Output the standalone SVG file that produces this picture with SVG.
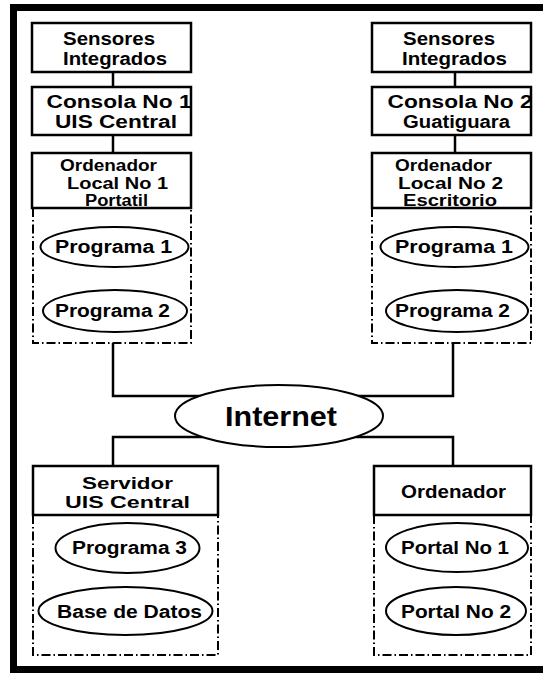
<svg xmlns="http://www.w3.org/2000/svg" width="543" height="673" viewBox="0 0 543 673">
  <style>
    .box { fill: #fff; stroke: #000; stroke-width: 2.5; }
    .ell { fill: #fff; stroke: #000; stroke-width: 2; }
    .dash { fill: none; stroke: #000; stroke-width: 2; stroke-dasharray: 9 3 1.5 3; }
    .wire { fill: none; stroke: #000; stroke-width: 2.5; }
    text { font-family: "Liberation Sans", Arial, sans-serif; font-weight: bold; font-size: 18px; fill: #000; text-anchor: middle; }
    .sm { font-size: 16px; }
    .big { font-size: 27px; }
  </style>
  <rect width="543" height="673" fill="#fff"/>
  <!-- outer frame -->
  <path d="M 560 7.5 H 13.5 V 669.5 H 560" fill="none" stroke="#000" stroke-width="7"/>

  <g id="connectors">
    <path class="wire" d="M113 72 V87 M113 135 V153"/>
    <path class="wire" d="M455 72 V87 M455 135 V153"/>
    <path class="wire" d="M113 343 V396 H279"/>
    <path class="wire" d="M453 343 V396 H279"/>
    <path class="wire" d="M113 466 V437 H279"/>
    <path class="wire" d="M453 466 V437 H279"/>
  </g>

  <!-- left station -->
  <g id="sensores-1">
    <rect class="box" x="32" y="23" width="159" height="49"/>
    <text x="109" y="45" textLength="92" lengthAdjust="spacingAndGlyphs">Sensores</text>
    <text x="115" y="65" textLength="104" lengthAdjust="spacingAndGlyphs">Integrados</text>
  </g>
  <g id="consola-1">
    <rect class="box" x="32" y="87" width="159" height="48"/>
    <text x="119" y="108" textLength="145" lengthAdjust="spacingAndGlyphs">Consola No 1</text>
    <text x="116" y="128" textLength="122" lengthAdjust="spacingAndGlyphs">UIS Central</text>
  </g>
  <g id="ordenador-1">
    <rect class="box" x="32" y="153" width="159" height="55"/>
    <text class="sm" x="108.5" y="171" textLength="97" lengthAdjust="spacingAndGlyphs">Ordenador</text>
    <text class="sm" x="117.5" y="189" textLength="101" lengthAdjust="spacingAndGlyphs">Local No 1</text>
    <text class="sm" x="116.5" y="206" textLength="63" lengthAdjust="spacingAndGlyphs">Portatil</text>
    <path class="dash" d="M33 208 V343 H191 V208"/>
  </g>
  <g id="programa-1a">
    <ellipse class="ell" cx="114.5" cy="247" rx="74" ry="20"/>
    <text x="113.5" y="253" textLength="117" lengthAdjust="spacingAndGlyphs">Programa 1</text>
  </g>
  <g id="programa-2a">
    <ellipse class="ell" cx="115" cy="311" rx="72" ry="21"/>
    <text x="112.5" y="317" textLength="115" lengthAdjust="spacingAndGlyphs">Programa 2</text>
  </g>

  <!-- right station -->
  <g id="sensores-2">
    <rect class="box" x="372" y="23" width="159" height="49"/>
    <text x="449" y="45" textLength="92" lengthAdjust="spacingAndGlyphs">Sensores</text>
    <text x="454.5" y="65" textLength="105" lengthAdjust="spacingAndGlyphs">Integrados</text>
  </g>
  <g id="consola-2">
    <rect class="box" x="372" y="87" width="159" height="48"/>
    <text x="460" y="108" textLength="145" lengthAdjust="spacingAndGlyphs">Consola No 2</text>
    <text x="456.5" y="128" textLength="107" lengthAdjust="spacingAndGlyphs">Guatiguara</text>
  </g>
  <g id="ordenador-2">
    <rect class="box" x="372" y="153" width="159" height="55"/>
    <text class="sm" x="443.5" y="171" textLength="97" lengthAdjust="spacingAndGlyphs">Ordenador</text>
    <text class="sm" x="450.5" y="189" textLength="105" lengthAdjust="spacingAndGlyphs">Local No 2</text>
    <text class="sm" x="450" y="206" textLength="94" lengthAdjust="spacingAndGlyphs">Escritorio</text>
    <path class="dash" d="M372 208 V343 H531 V208"/>
  </g>
  <g id="programa-1b">
    <ellipse class="ell" cx="454.5" cy="247" rx="74" ry="20"/>
    <text x="454" y="253" textLength="118" lengthAdjust="spacingAndGlyphs">Programa 1</text>
  </g>
  <g id="programa-2b">
    <ellipse class="ell" cx="457" cy="311" rx="71" ry="21"/>
    <text x="452.5" y="317" textLength="115" lengthAdjust="spacingAndGlyphs">Programa 2</text>
  </g>

  <!-- network -->
  <g id="internet">
    <ellipse class="ell" cx="279" cy="416" rx="104" ry="31"/>
    <text class="big" x="281" y="426" textLength="112" lengthAdjust="spacingAndGlyphs">Internet</text>
  </g>

  <!-- server -->
  <g id="servidor">
    <rect class="box" x="33" y="466" width="185" height="49"/>
    <text class="sm" x="127.5" y="489" textLength="91" lengthAdjust="spacingAndGlyphs">Servidor</text>
    <text class="sm" x="127.5" y="508" textLength="125" lengthAdjust="spacingAndGlyphs">UIS Central</text>
    <path class="dash" d="M33 515 V655 H218 V515"/>
  </g>
  <g id="programa-3">
    <ellipse class="ell" cx="127.5" cy="548" rx="72" ry="25"/>
    <text x="129.5" y="554" textLength="115" lengthAdjust="spacingAndGlyphs">Programa 3</text>
  </g>
  <g id="base-de-datos">
    <ellipse class="ell" cx="125.5" cy="611" rx="87" ry="24"/>
    <text x="129.5" y="618" textLength="145" lengthAdjust="spacingAndGlyphs">Base de Datos</text>
  </g>

  <!-- client computer -->
  <g id="ordenador-3">
    <rect class="box" x="374" y="466" width="157" height="49"/>
    <text x="453.5" y="498" textLength="105" lengthAdjust="spacingAndGlyphs">Ordenador</text>
    <path class="dash" d="M374 515 V655 H531 V515"/>
  </g>
  <g id="portal-1">
    <ellipse class="ell" cx="457" cy="547.5" rx="71" ry="24.5"/>
    <text x="455" y="554" textLength="108" lengthAdjust="spacingAndGlyphs">Portal No 1</text>
  </g>
  <g id="portal-2">
    <ellipse class="ell" cx="456" cy="611" rx="70" ry="24"/>
    <text x="456" y="618" textLength="110" lengthAdjust="spacingAndGlyphs">Portal No 2</text>
  </g>
</svg>
